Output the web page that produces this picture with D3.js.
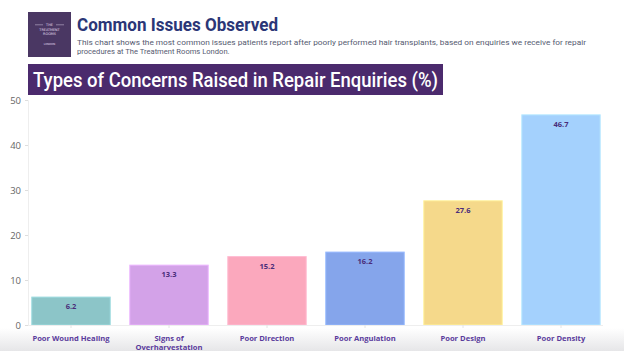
<!DOCTYPE html>
<html><head><meta charset="utf-8">
<script src="https://cdn.jsdelivr.net/npm/d3@7"></script>
<style>body{margin:0;background:#fff;}svg{display:block;}</style>
</head><body>
<script>
const categories = ["Poor Wound Healing", "Signs of\nOverharvestation", "Poor Direction", "Poor Angulation", "Poor Design", "Poor Density"];
const values = [6.2, 13.3, 15.2, 16.2, 27.6, 46.7];
const colors = ["#8cc5c8", "#d3a2e8", "#fba8bd", "#85a5eb", "#f5d98b", "#a4d1fd"];
const yTicks = [0, 10, 20, 30, 40, 50];
const title = "Common Issues Observed";
const subtitle = ["This chart shows the most common issues patients report after poorly performed hair transplants, based on enquiries we receive for repair", "procedures at The Treatment Rooms London."];
const bannerText = "Types of Concerns Raised in Repair Enquiries (%)";

const W = 624, H = 351;
const svg = d3.select("body").append("svg").attr("width", W).attr("height", H);
const defs = svg.append("defs");
const g = defs.append("linearGradient").attr("id","shade").attr("x1",0).attr("y1",0).attr("x2",0).attr("y2",1);
g.append("stop").attr("offset","0").attr("stop-color","#ffffff");
g.append("stop").attr("offset","1").attr("stop-color","#e6e6e8");
svg.append("rect").attr("x",0).attr("y",328).attr("width",W).attr("height",H-328).attr("fill","url(#shade)");

// logo
const logo = svg.append("g");
logo.append("rect").attr("x",28).attr("y",12).attr("width",43).attr("height",45).attr("fill","#4a3763");
const lt = [["THE",26,3.4],["TREATMENT",30.5,3.4],["ROOMS",35,3.4],["LONDON",45,2.6]];
lt.forEach(d=>logo.append("text").attr("x",49.5).attr("y",d[1]).attr("text-anchor","middle")
  .attr("font-family","DejaVu Sans").attr("font-size",d[2]).attr("fill","#e4dcef").text(d[0]));
logo.append("line").attr("x1",35).attr("x2",43).attr("y1",24.8).attr("y2",24.8).attr("stroke","#d9cfe6").attr("stroke-width",0.5);
logo.append("line").attr("x1",56).attr("x2",64).attr("y1",24.8).attr("y2",24.8).attr("stroke","#d9cfe6").attr("stroke-width",0.5);

svg.append("text").attr("x",77).attr("y",31).attr("font-family","Roboto").attr("font-weight",700)
  .attr("font-size",17.5).attr("fill","#2b3677").attr("textLength",201).attr("lengthAdjust","spacingAndGlyphs").text(title);
subtitle.forEach((s,i)=>{
  const t = svg.append("text").attr("x",77).attr("y",45+i*9).attr("font-family","Roboto")
    .attr("font-size",7.6).attr("fill","#555a70").text(s);
  if(i===0) t.attr("textLength",509).attr("lengthAdjust","spacingAndGlyphs");
});

svg.append("rect").attr("x",28).attr("y",64).attr("width",415).attr("height",31).attr("fill","#4b2a6d");
svg.append("text").attr("x",33).attr("y",87).attr("font-family","Roboto").attr("font-weight",500)
  .attr("font-size",20).attr("fill","#ffffff").attr("textLength",405).attr("lengthAdjust","spacingAndGlyphs").text(bannerText);

const x = d3.scaleBand().domain(categories).range([22, 610]).paddingInner(0.2).paddingOuter(0.1);
const y = d3.scaleLinear().domain([0, 50]).range([325, 100]);

// y axis
const ya = svg.append("g").attr("transform","translate(28,0)")
  .call(d3.axisLeft(y).tickValues(yTicks).tickSize(3).tickPadding(4));
ya.select(".domain").attr("stroke","#eeeeee");
ya.selectAll(".tick line").attr("stroke","#dddddd");
ya.selectAll("text").attr("font-family","Open Sans").attr("font-size",9.5).attr("fill","#666");

// bars
svg.selectAll(".bar").data(categories).enter().append("rect")
  .attr("x", d=>x(d)).attr("y", (d,i)=>y(values[i])).attr("width", x.bandwidth())
  .attr("height", (d,i)=>y(0)-y(values[i])).attr("fill",(d,i)=>colors[i])
  .attr("stroke",(d,i)=>d3.color(colors[i]).brighter(0.3)).attr("stroke-width",1);
svg.selectAll(".val").data(categories).enter().append("text")
  .attr("x", d=>x(d)+x.bandwidth()/2).attr("y",(d,i)=>y(values[i])+12).attr("text-anchor","middle")
  .attr("font-family","Open Sans").attr("font-weight",700).attr("font-size",7.5).attr("fill","#4a2d7a")
  .text((d,i)=>values[i]);

// x axis
const xa = svg.append("g").attr("transform","translate(0,325)")
  .call(d3.axisBottom(x).tickSize(3).tickFormat(""));
xa.select(".domain").attr("d","M28,0.5H603").attr("stroke","#eeeeee");
xa.selectAll(".tick line").attr("stroke","#e4e4e4");
categories.forEach(c=>{
  const lines = c.split("\n");
  const t = svg.append("text").attr("x", x(c)+x.bandwidth()/2).attr("y",341).attr("text-anchor","middle")
    .attr("font-family","Open Sans").attr("font-weight",700).attr("font-size",7.6).attr("fill","#5a3b9c");
  lines.forEach((l,i)=>t.append("tspan").attr("x", x(c)+x.bandwidth()/2).attr("dy", i?8.5:0).text(l));
});
</script>
</body></html>
